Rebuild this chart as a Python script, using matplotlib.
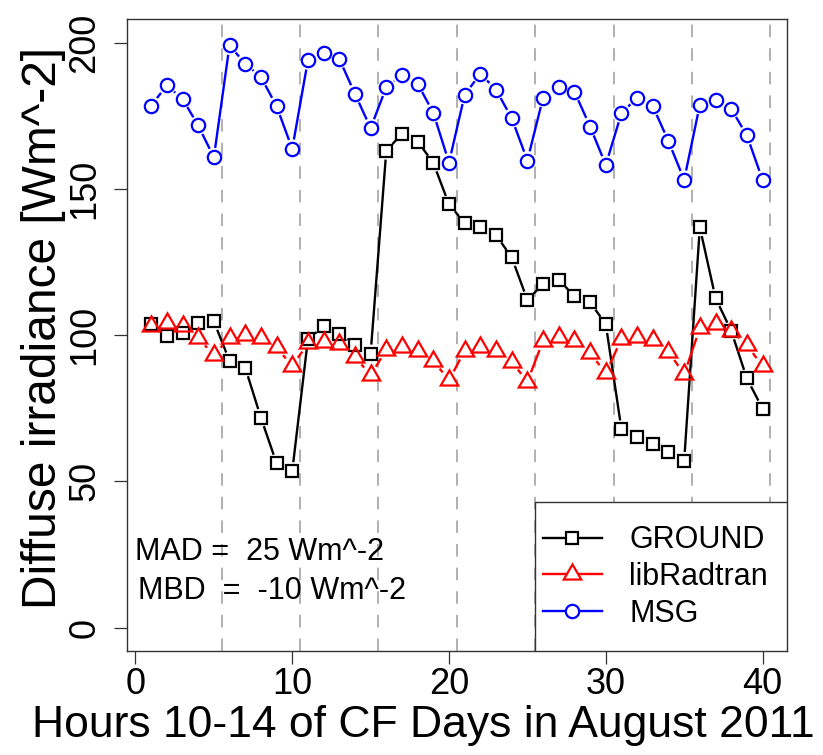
import numpy as np
import matplotlib
matplotlib.use("Agg")
import matplotlib.pyplot as plt
from matplotlib.collections import LineCollection
from matplotlib.lines import Line2D
from matplotlib.patches import Rectangle

# ---- data -------------------------------------------------------------
hours = list(range(1, 41))

ground = [103.8, 99.8, 100.8, 104.3, 104.7, 91.2, 88.9, 71.8, 56.2, 53.5,
          98.6, 103.0, 100.3, 96.6, 93.7, 163.1, 168.8, 166.2, 158.9, 144.7,
          138.4, 136.9, 134.2, 126.6, 112.0, 117.5, 118.8, 113.5, 111.2, 103.8,
          67.8, 65.3, 62.7, 60.0, 57.0, 136.9, 112.7, 101.5, 85.2, 74.9]

libradtran = [103.0, 104.0, 103.0, 99.0, 93.2, 99.0, 100.0, 99.0, 95.8, 89.4,
              97.2, 97.8, 97.0, 92.6, 86.3, 95.0, 96.0, 94.7, 91.2, 84.6,
              94.7, 95.8, 94.7, 90.9, 84.1, 98.1, 99.2, 98.1, 93.8, 87.1,
              98.6, 99.5, 98.3, 94.3, 86.7, 102.3, 103.7, 101.5, 96.6, 89.4]

msg = [178.5, 185.4, 180.8, 171.7, 160.8, 199.1, 192.8, 188.3, 178.3, 163.7,
       194.0, 196.5, 194.5, 182.5, 170.8, 184.8, 188.8, 186.0, 176.0, 159.0,
       182.2, 189.4, 183.9, 174.2, 159.7, 181.2, 184.8, 183.3, 171.3, 158.2,
       175.9, 181.2, 178.3, 166.3, 153.1, 178.8, 180.5, 177.4, 168.3, 153.1]

series_names = ["GROUND", "libRadtran", "MSG"]
day_breaks = [5.5, 10.5, 15.5, 20.5, 25.5, 30.5, 35.5, 40.5]
x_ticks = [0, 10, 20, 30, 40]
y_ticks = [0, 50, 100, 150, 200]
mad_text = "MAD =  25 Wm^-2"
mbd_text = "MBD  =  -10 Wm^-2"

# ---- style ------------------------------------------------------------
plt.rcParams["font.family"] = ["Liberation Sans", "DejaVu Sans"]
plt.rcParams["lines.scale_dashes"] = False

W, H, DPI = 823, 755, 100
fig = plt.figure(figsize=(W / DPI, H / DPI), dpi=DPI)
L, R, T, B = 126.7, 787.0, 19.3, 651.0
ax = fig.add_axes([L / W, 1 - B / H, (R - L) / W, (B - T) / H])

# R-style 4% padding around the data / axis range
ax.set_xlim(1 - 0.04 * 39, 40 + 0.04 * 39)
ax.set_ylim(0 - 0.04 * 200, 200 + 0.04 * 200)

for s in ax.spines.values():
    s.set_color("#333333")
    s.set_linewidth(1.0)

ax.set_xticks(x_ticks)
ax.set_yticks(y_ticks)
ax.tick_params(direction="out", length=9.4, width=0.9, color="#333333",
               labelsize=26)
ax.tick_params(axis="x", pad=2)
ax.tick_params(axis="y", pad=8)
for lab in ax.get_yticklabels():
    lab.set_rotation(90)
    lab.set_va("center")
    lab.set_ha("right")

ax.set_xlabel("Hours 10-14 of CF Days in August 2011", fontsize=32)
ax.xaxis.set_label_coords((423 - L) / (R - L), -0.085)
ax.set_ylabel("Diffuse irradiance [Wm^-2]", fontsize=34.5)
ax.yaxis.set_label_coords((66 - L) / (R - L), (B - 328) / (B - T))

# day separators
for xb in day_breaks:
    ax.axvline(xb, color="#b0b0b0", lw=1.4, dashes=(9, 8), zorder=1)


def gapped_line(ax, xs, ys, gap_px, color, lw):
    """Connect points with segments that stop short of each marker."""
    pts = ax.transData.transform(np.column_stack([xs, ys]))
    inv = ax.transData.inverted()
    segs = []
    for p0, p1 in zip(pts[:-1], pts[1:]):
        d = p1 - p0
        dist = np.hypot(*d)
        if dist <= 2 * gap_px:
            continue
        u = d / dist
        segs.append(inv.transform([p0 + u * gap_px, p1 - u * gap_px]))
    ax.add_collection(LineCollection(segs, colors=color, linewidths=lw,
                                     zorder=2, capstyle="butt"))


tri = (3, 0, 0)   # equilateral triangle, pointing up
styles = [
    (ground, "black", "s", 8.2, 9.0),
    (libradtran, "#ff0000", tri, 14.5, 10.0),
    (msg, "#0000ff", "o", 9.6, 9.5),
]

for vals, col, mk, ms, gap in styles:
    gapped_line(ax, hours, vals, gap, col, 1.7)
    ax.plot(hours, vals, linestyle="none", marker=mk, markersize=ms,
            markerfacecolor="none", markeredgecolor=col, markeredgewidth=1.6,
            zorder=3)

# statistics
ax.text(0.0, 25.7, mad_text, fontsize=22, ha="left", va="center")
ax.text(0.15, 12.4, mbd_text, fontsize=22, ha="left", va="center")

# legend box and entries
box_left = (535 - L) / (R - L)
box_top = (B - 502) / (B - T)
ax.add_patch(Rectangle((box_left, 0), 1 - box_left, box_top,
                       transform=ax.transAxes, facecolor="white",
                       edgecolor="#333333", lw=1.0, zorder=4))
handles = [Line2D([], [], color=c, lw=1.7, marker=m, markersize=ms,
                  markerfacecolor="white", markeredgecolor=c,
                  markeredgewidth=1.6)
           for _, c, m, ms, _ in styles]
leg = ax.legend(handles, series_names, loc="center left",
                bbox_to_anchor=((543 - L) / (R - L), (B - 577) / (B - T)),
                frameon=False, fontsize=22, borderpad=0, borderaxespad=0,
                handlelength=1.93, handletextpad=0.9, labelspacing=0.22)
leg.set_zorder(5)

fig.savefig("out.png", dpi=DPI)
